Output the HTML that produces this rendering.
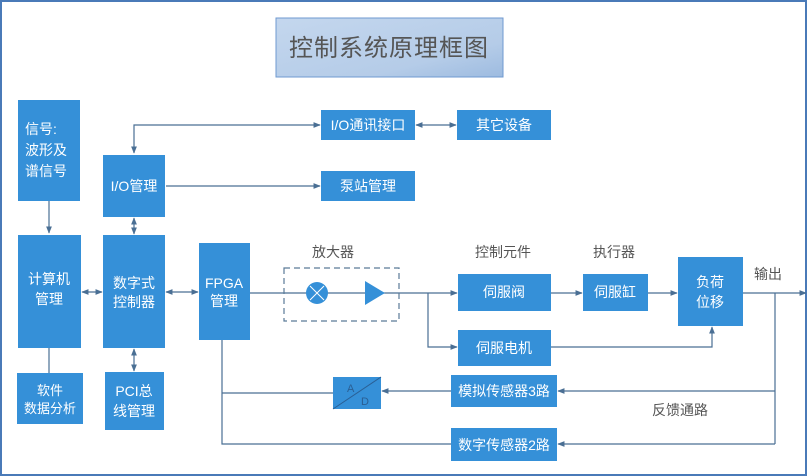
<!DOCTYPE html>
<html><head><meta charset="utf-8"><style>
html,body{margin:0;padding:0;background:#fff}
svg{display:block}
text{font-family:"Liberation Sans","Noto Sans CJK SC",sans-serif}
.b{fill:#3590d8}
.t{fill:#fff;font-size:14px;text-anchor:middle}
.l{fill:#555;font-size:14px;text-anchor:middle}
.ln{stroke:#4a6f94;stroke-width:1.2;fill:none}
</style></head><body>
<svg width="807" height="476" viewBox="0 0 807 476" xmlns="http://www.w3.org/2000/svg">
<defs>
<marker id="a" viewBox="0 0 10 10" refX="9" refY="5" markerWidth="6" markerHeight="6" orient="auto-start-reverse"><path d="M0,1 L10,5 L0,9 z" fill="#4a6f94"/></marker>
<linearGradient id="g" x1="0" y1="0" x2="1" y2="1"><stop offset="0" stop-color="#c4d7ee"/><stop offset="0.7" stop-color="#b5cce8"/><stop offset="1" stop-color="#9dbbe0"/></linearGradient>
</defs>
<rect x="1" y="1" width="805" height="474" fill="#fff" stroke="#4a7ab8" stroke-width="2"/>
<rect x="276" y="18" width="227" height="59" fill="url(#g)" stroke="#6f9ad0" stroke-width="1"/>
<text x="389" y="56" style="font-size:24px;fill:#555;text-anchor:middle;letter-spacing:1px">控制系统原理框图</text>

<!-- connectors -->
<path class="ln" d="M49,201 V233" marker-end="url(#a)"/>
<path class="ln" d="M49,348 V373"/>
<path class="ln" d="M82,292 H102" marker-start="url(#a)" marker-end="url(#a)"/>
<path class="ln" d="M166,292 H198" marker-start="url(#a)" marker-end="url(#a)"/>
<path class="ln" d="M134,218 V234" marker-start="url(#a)" marker-end="url(#a)"/>
<path class="ln" d="M134,349 V371" marker-start="url(#a)" marker-end="url(#a)"/>
<path class="ln" d="M134,153 V125 H320" marker-start="url(#a)" marker-end="url(#a)"/>
<path class="ln" d="M416,125 H456" marker-start="url(#a)" marker-end="url(#a)"/>
<path class="ln" d="M166,186 H320" marker-end="url(#a)"/>
<path class="ln" d="M250,293 H457" marker-end="url(#a)"/>
<path class="ln" d="M428,293 V347 H457" marker-end="url(#a)"/>
<path class="ln" d="M551,293 H582" marker-end="url(#a)"/>
<path class="ln" d="M648,293 H677" marker-end="url(#a)"/>
<path class="ln" d="M551,347 H712 V327" marker-end="url(#a)"/>
<path class="ln" d="M743,293 H806" marker-end="url(#a)"/>
<path class="ln" d="M775,293 V444"/>
<path class="ln" d="M775,391 H558" marker-end="url(#a)"/>
<path class="ln" d="M451,391 H382" marker-end="url(#a)"/>
<path class="ln" d="M333,393 H222"/>
<path class="ln" d="M222,340 V444 H451"/>
<path class="ln" d="M775,444 H558" marker-end="url(#a)"/>

<!-- dashed amplifier box -->
<rect x="284" y="268" width="115" height="53" fill="none" stroke="#5a7a98" stroke-width="1.2" stroke-dasharray="6,4"/>
<circle cx="317" cy="293" r="11" class="b"/>
<path d="M310,286 L324,300 M324,286 L310,300" stroke="#fff" stroke-width="1"/>
<path d="M365,281 L385,293 L365,305 z" class="b"/>

<!-- boxes -->
<rect class="b" x="18" y="100" width="62" height="101"/>
<text class="t" x="25" y="134" style="text-anchor:start">信号:</text>
<text class="t" x="25" y="155" style="text-anchor:start">波形及</text>
<text class="t" x="25" y="176" style="text-anchor:start">谱信号</text>

<rect class="b" x="18" y="235" width="63" height="113"/>
<text class="t" x="49" y="284">计算机</text>
<text class="t" x="49" y="304">管理</text>

<rect class="b" x="17" y="373" width="66" height="51"/>
<text class="t" x="50" y="395" style="font-size:13px">软件</text>
<text class="t" x="50" y="413" style="font-size:13px">数据分析</text>

<rect class="b" x="103" y="155" width="62" height="62"/>
<text class="t" x="134" y="191">I/O管理</text>

<rect class="b" x="103" y="235" width="62" height="113"/>
<text class="t" x="134" y="288">数字式</text>
<text class="t" x="134" y="307">控制器</text>

<rect class="b" x="105" y="372" width="59" height="58"/>
<text class="t" x="134" y="396">PCI总</text>
<text class="t" x="134" y="416">线管理</text>

<rect class="b" x="199" y="243" width="51" height="97"/>
<text class="t" x="224" y="288">FPGA</text>
<text class="t" x="224" y="306">管理</text>

<rect class="b" x="321" y="110" width="94" height="30"/>
<text class="t" x="368" y="130">I/O通讯接口</text>
<rect class="b" x="457" y="110" width="94" height="30"/>
<text class="t" x="504" y="130">其它设备</text>
<rect class="b" x="321" y="171" width="94" height="30"/>
<text class="t" x="368" y="191">泵站管理</text>

<rect class="b" x="458" y="274" width="93" height="37"/>
<text class="t" x="504" y="297">伺服阀</text>
<rect class="b" x="583" y="274" width="65" height="37"/>
<text class="t" x="615" y="297">伺服缸</text>
<rect class="b" x="678" y="257" width="65" height="69"/>
<text class="t" x="710" y="287">负荷</text>
<text class="t" x="710" y="307">位移</text>
<rect class="b" x="458" y="330" width="93" height="36"/>
<text class="t" x="504" y="353">伺服电机</text>
<rect class="b" x="451" y="375" width="106" height="32"/>
<text class="t" x="504" y="396">模拟传感器3路</text>
<rect class="b" x="451" y="428" width="106" height="33"/>
<text class="t" x="504" y="450">数字传感器2路</text>

<rect class="b" x="333" y="377" width="48" height="32"/>
<path d="M333,409 L381,377" stroke="#2a5f94" stroke-width="1"/>
<text x="347" y="392" style="fill:#2a5f94;font-size:11px">A</text>
<text x="361" y="405" style="fill:#2a5f94;font-size:11px">D</text>

<text class="l" x="333" y="257">放大器</text>
<text class="l" x="503" y="257">控制元件</text>
<text class="l" x="614" y="257">执行器</text>
<text class="l" x="768" y="279">输出</text>
<text class="l" x="680" y="415">反馈通路</text>
</svg>
</body></html>
